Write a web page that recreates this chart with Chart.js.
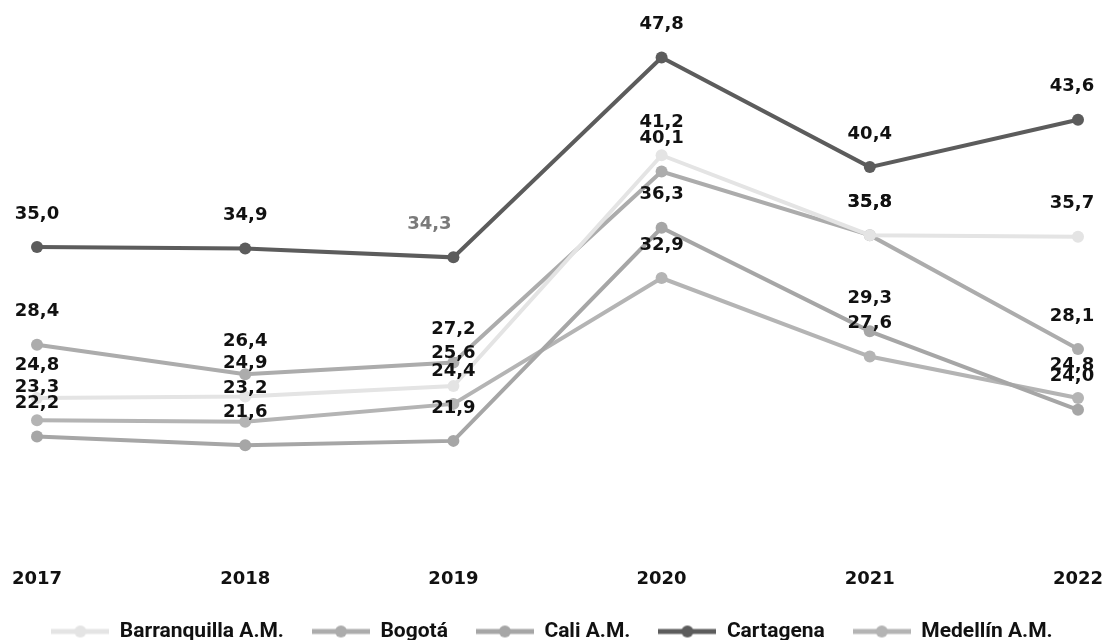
<!DOCTYPE html>
<html>
<head>
<meta charset="utf-8">
<script src="https://cdn.jsdelivr.net/npm/chart.js@4/dist/chart.umd.min.js"></script>
<style>
  html, body { margin: 0; padding: 0; background: #fff; }
  #wrap { width: 1104px; height: 640px; }
</style>
</head>
<body>
<div id="wrap"><canvas id="chart"></canvas></div>
<script>
// datos
const years = ['2017', '2018', '2019', '2020', '2021', '2022'];
const cities = ['Barranquilla A.M.', 'Bogotá', 'Cali A.M.', 'Cartagena', 'Medellín A.M.'];
const barranquilla = [24.8, 24.9, 25.6, 41.2, 35.8, 35.7];
const bogota = [28.4, 26.4, 27.2, 40.1, 35.8, 28.1];
const cali = [22.2, 21.6, 21.9, 36.3, 29.3, 24.0];
const cartagena = [35.0, 34.9, 34.3, 47.8, 40.4, 43.6];
const medellin = [23.3, 23.2, 24.4, 32.9, 27.6, 24.8];

const colors = ['#e4e4e4', '#acacac', '#a6a6a6', '#5c5c5c', '#b4b4b4'];
const series = [barranquilla, bogota, cali, cartagena, medellin];

// icono de la leyenda: linea con punto
function legendMarker(color) {
  const c = document.createElement('canvas');
  c.width = 58; c.height = 14;
  const g = c.getContext('2d');
  g.strokeStyle = color;
  g.lineWidth = 5;
  g.beginPath(); g.moveTo(0, 7); g.lineTo(58, 7); g.stroke();
  g.fillStyle = color;
  g.beginPath(); g.arc(29, 7, 6, 0, Math.PI * 2); g.fill();
  return c;
}

// altura fija de la leyenda
const legendBox = {
  id: 'legendBox',
  beforeUpdate(chart) {
    const lg = chart.legend;
    if (lg && !lg._fixed) {
      const fit = lg.fit;
      lg.fit = function () { fit.call(this); this.height = 47; };
      lg._fixed = true;
    }
  }
};

// etiquetas de valores encima de cada punto
const valueLabels = {
  id: 'valueLabels',
  afterDatasetsDraw(chart) {
    const ctx = chart.ctx;
    ctx.save();
    ctx.font = 'bold 18px "DejaVu Sans", sans-serif';
    ctx.textAlign = 'center';
    ctx.textBaseline = 'middle';
    chart.data.datasets.forEach((ds, i) => {
      chart.getDatasetMeta(i).data.forEach((pt, j) => {
        let x = pt.x;
        ctx.fillStyle = '#111';
        if (i === 3 && j === 2) { x -= 24; ctx.fillStyle = '#7a7a7a'; }
        if (j === ds.data.length - 1) x -= 6;
        const txt = ds.data[j].toFixed(1).replace('.', ',');
        ctx.fillText(txt, x, pt.y - 33);
      });
    });
    ctx.restore();
  }
};

new Chart(document.getElementById('chart'), {
  type: 'line',
  data: {
    labels: years,
    datasets: cities.map((name, i) => ({
      label: name,
      data: series[i],
      borderColor: colors[i],
      backgroundColor: colors[i],
      borderWidth: 4,
      pointRadius: 6,
      pointHoverRadius: 6,
      pointBackgroundColor: colors[i],
      pointBorderWidth: 0,
      tension: 0,
      clip: false
    }))
  },
  options: {
    responsive: true,
    maintainAspectRatio: false,
    animation: false,
    layout: { padding: { top: 25, left: 0, right: 0, bottom: 0 } },
    scales: {
      x: {
        grid: { display: false, drawTicks: false },
        border: { display: false },
        afterFit(scale) {
          scale.height = 50;
          scale.paddingLeft = 37;
          scale.paddingRight = 26;
        },
        ticks: {
          padding: 26,
          color: '#111',
          font: { family: '"DejaVu Sans", sans-serif', size: 18, weight: 'bold' }
        }
      },
      y: {
        display: false,
        min: 15,
        max: 50
      }
    },
    plugins: {
      tooltip: { enabled: false },
      legend: {
        position: 'bottom',
        labels: {
          usePointStyle: true,
          pointStyleWidth: 58,
          padding: 28,
          color: '#111',
          font: { family: '"Roboto", sans-serif', size: 21, weight: 'bold' },
          generateLabels(chart) {
            return chart.data.datasets.map((ds, i) => ({
              text: ds.label,
              fillStyle: colors[i],
              strokeStyle: colors[i],
              fontColor: '#111',
              pointStyle: legendMarker(colors[i]),
              datasetIndex: i,
              hidden: false
            }));
          }
        }
      }
    }
  },
  plugins: [legendBox, valueLabels]
});
</script>
</body>
</html>
